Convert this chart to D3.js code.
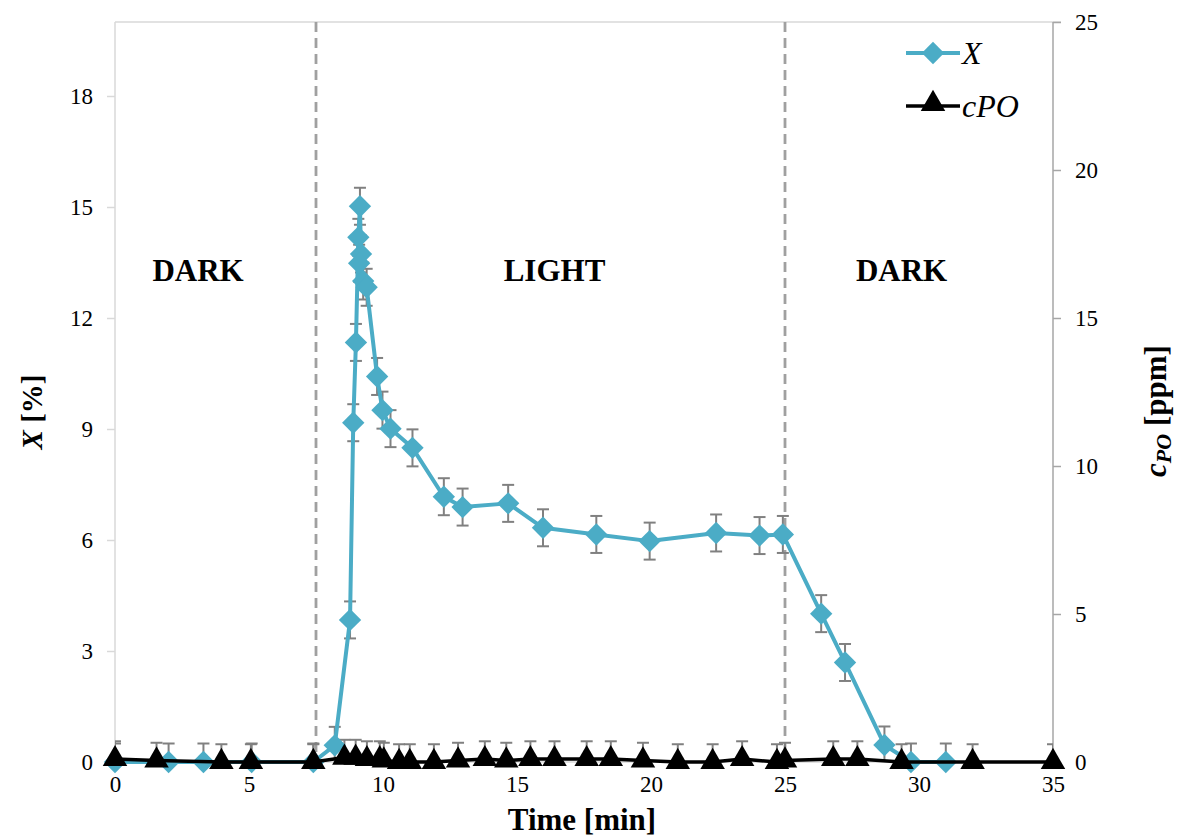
<!DOCTYPE html>
<html>
<head>
<meta charset="utf-8">
<script src="https://cdn.jsdelivr.net/npm/d3@7"></script>
<style>
body { margin: 0; background: #fff; }
svg text { font-family: "Liberation Serif", "Times New Roman", "DejaVu Serif", serif !important; fill: #000; }
</style>
</head>
<body>
<svg id="svg" width="1177" height="839"></svg>
<script>
// X conversion [%] with error bars
const timeX = [0, 2.0, 3.3, 5.1, 7.4, 8.2, 8.77, 8.89, 8.99, 9.08, 9.14, 9.18, 9.11, 9.26, 9.39, 9.78, 9.98, 10.28, 11.1, 12.27, 12.97, 14.67, 15.97, 17.96, 19.95, 22.43, 24.05, 24.92, 26.35, 27.24, 28.71, 29.7, 31.0]
const valX = [0, 0, 0, 0, 0, 0.45, 3.84, 9.17, 11.34, 14.18, 15.02, 13.73, 13.48, 13.0, 12.83, 10.42, 9.51, 9.01, 8.49, 7.17, 6.89, 6.99, 6.33, 6.15, 5.97, 6.19, 6.12, 6.15, 4.01, 2.69, 0.46, 0, 0]
const errX = valX.map(() => 0.5)

// cPO [ppm]
const timeC = [0, 1.55, 3.97, 5.07, 7.4, 8.56, 8.98, 9.4, 9.88, 10.03, 10.6, 11.0, 11.9, 12.8, 13.8, 14.6, 15.5, 16.4, 17.6, 18.5, 19.7, 21.0, 22.3, 23.4, 24.7, 25.0, 26.8, 27.7, 29.35, 32.0, 35.0]
const valC = [0.1, 0.05, 0, 0, 0, 0.15, 0.15, 0.1, 0.1, 0.05, 0, 0, 0, 0.05, 0.1, 0.05, 0.1, 0.1, 0.1, 0.1, 0.05, 0, 0, 0.1, 0, 0.05, 0.1, 0.1, 0, 0, 0]
const errC = valC.map(() => 0.6)

const xTicks = [0, 5, 10, 15, 20, 25, 30, 35]
const leftTicks = [0, 3, 6, 9, 12, 15, 18]
const rightTicks = [0, 5, 10, 15, 20, 25]
const phaseBounds = [7.5, 25]
const phaseNames = ['DARK', 'LIGHT', 'DARK']
const phaseAt = [3.1, 16.4, 29.35]

const $svg = d3.select('#svg')
const L = 115, R = 1053, T = 22, B = 762

const x = d3.scaleLinear().domain([0, 35]).range([L, R])
const yL = d3.scaleLinear().domain([0, 20]).range([B, T])
const yR = d3.scaleLinear().domain([0, 25]).range([B, T])

const BLUE = '#4BACC6'
const GREY = '#808080'

// frame
$svg.append('line').attr('x1', L).attr('x2', R + 8).attr('y1', T).attr('y2', T)
	.attr('stroke', '#d9d9d9').attr('stroke-width', 1.5)
$svg.append('line').attr('x1', L).attr('x2', R).attr('y1', B).attr('y2', B)
	.attr('stroke', '#d9d9d9').attr('stroke-width', 1.5)

// left axis
const gL = $svg.append('g').attr('transform', `translate(${L},0)`)
	.call(d3.axisLeft(yL).tickValues(leftTicks).tickSize(8).tickPadding(14))
gL.attr('font-family', null)
gL.select('.domain').attr('stroke', '#d9d9d9').attr('stroke-width', 1.5)
	.attr('d', `M0,${T}V${B}`)
gL.selectAll('.tick line').attr('stroke', '#d9d9d9').attr('stroke-width', 1.5)
gL.selectAll('.tick text').style('font-size', '23px')

// right axis
const gR = $svg.append('g').attr('transform', `translate(${R},0)`)
	.call(d3.axisRight(yR).tickValues(rightTicks).tickSize(8).tickPadding(14))
gR.attr('font-family', null)
gR.select('.domain').attr('stroke', '#a6a6a6').attr('stroke-width', 1.5)
	.attr('d', `M0,${T}V${B}`)
gR.selectAll('.tick line').attr('stroke', '#a6a6a6').attr('stroke-width', 1.5)
gR.selectAll('.tick text').style('font-size', '23px')

// bottom axis
const gB = $svg.append('g').attr('transform', `translate(0,${B})`)
	.call(d3.axisBottom(x).tickValues(xTicks).tickSize(0).tickPadding(14))
gB.attr('font-family', null)
gB.select('.domain').remove()
gB.selectAll('.tick text').style('font-size', '23px')

// phase boundaries
$svg.selectAll('.phase').data(phaseBounds).join('line')
	.attr('x1', d => x(d)).attr('x2', d => x(d)).attr('y1', T).attr('y2', B)
	.attr('stroke', '#a0a0a0').attr('stroke-width', 2.8).attr('stroke-dasharray', '10,6')

$svg.selectAll('.pname').data(phaseNames).join('text')
	.attr('x', (d, i) => x(phaseAt[i])).attr('y', 281)
	.attr('text-anchor', 'middle').style('font-size', '31px').style('font-weight', 'bold')
	.text(d => d)

// clip for error bars
$svg.append('clipPath').attr('id', 'plotclip').append('rect')
	.attr('x', L).attr('y', T).attr('width', R - L).attr('height', B - T)

const errBars = (times, vals, errs, y) => {
	const g = $svg.append('g').attr('clip-path', 'url(#plotclip)')
		.attr('stroke', GREY).attr('stroke-width', 2)
	times.forEach((t, i) => {
		const cx = x(t), y0 = y(vals[i] - errs[i]), y1 = y(vals[i] + errs[i])
		g.append('line').attr('x1', cx).attr('x2', cx).attr('y1', y0).attr('y2', y1)
		g.append('line').attr('x1', cx - 6).attr('x2', cx + 6).attr('y1', y0).attr('y2', y0)
		g.append('line').attr('x1', cx - 6).attr('x2', cx + 6).attr('y1', y1).attr('y2', y1)
	})
}
errBars(timeX, valX, errX, yL)
errBars(timeC, valC, errC, yR)

// X series
const lineX = d3.line().x((d, i) => x(timeX[i])).y(d => yL(d))
$svg.append('path').attr('d', lineX(valX))
	.attr('fill', 'none').attr('stroke', BLUE).attr('stroke-width', 4).attr('stroke-linejoin', 'round')
const diamond = d3.symbol().type(d3.symbolSquare).size(250)
$svg.selectAll('.dx').data(valX).join('path')
	.attr('d', diamond)
	.attr('transform', (d, i) => `translate(${x(timeX[i])},${yL(d)}) rotate(45)`)
	.attr('fill', BLUE)

// cPO series
const lineC = d3.line().x((d, i) => x(timeC[i])).y(d => yR(d))
$svg.append('path').attr('d', lineC(valC))
	.attr('fill', 'none').attr('stroke', '#000').attr('stroke-width', 3.5)
const tri = d3.symbol().type(d3.symbolTriangle).size(260)
$svg.selectAll('.tc').data(valC).join('path')
	.attr('d', tri)
	.attr('transform', (d, i) => `translate(${x(timeC[i])},${yR(d)})`)
	.attr('fill', '#000')

// legend
const lg = $svg.append('g')
lg.append('line').attr('x1', 906).attr('x2', 960).attr('y1', 53).attr('y2', 53)
	.attr('stroke', BLUE).attr('stroke-width', 4)
lg.append('path').attr('d', diamond).attr('transform', 'translate(933,53) rotate(45)').attr('fill', BLUE)
lg.append('text').attr('x', 962).attr('y', 64).style('font-size', '32px').style('font-style', 'italic').text('X')
lg.append('line').attr('x1', 906).attr('x2', 960).attr('y1', 106).attr('y2', 106)
	.attr('stroke', '#000').attr('stroke-width', 3.5)
lg.append('path').attr('d', tri).attr('transform', 'translate(933,104)').attr('fill', '#000')
lg.append('text').attr('x', 962).attr('y', 117).style('font-size', '32px').style('font-style', 'italic').text('cPO')

// axis titles
const tl = $svg.append('text').attr('transform', `translate(42,${(T + B) / 2 + 20}) rotate(-90)`)
	.attr('text-anchor', 'middle').style('font-size', '29px').style('font-weight', 'bold')
tl.append('tspan').style('font-style', 'italic').text('X')
tl.append('tspan').text(' [%]')

$svg.append('text').attr('x', (L + R) / 2 - 2).attr('y', 830)
	.attr('text-anchor', 'middle').style('font-size', '31px').style('font-weight', 'bold')
	.text('Time [min]')

const tr = $svg.append('text').attr('transform', `translate(1166,${(T + B) / 2 + 19}) rotate(-90)`)
	.attr('text-anchor', 'middle').style('font-size', '31px').style('font-weight', 'bold')
tr.append('tspan').style('font-style', 'italic').text('c')
tr.append('tspan').style('font-style', 'italic').style('font-size', '22px').attr('dy', 5).text('PO')
tr.append('tspan').attr('dy', -5).text(' [ppm]')
</script>
</body>
</html>
